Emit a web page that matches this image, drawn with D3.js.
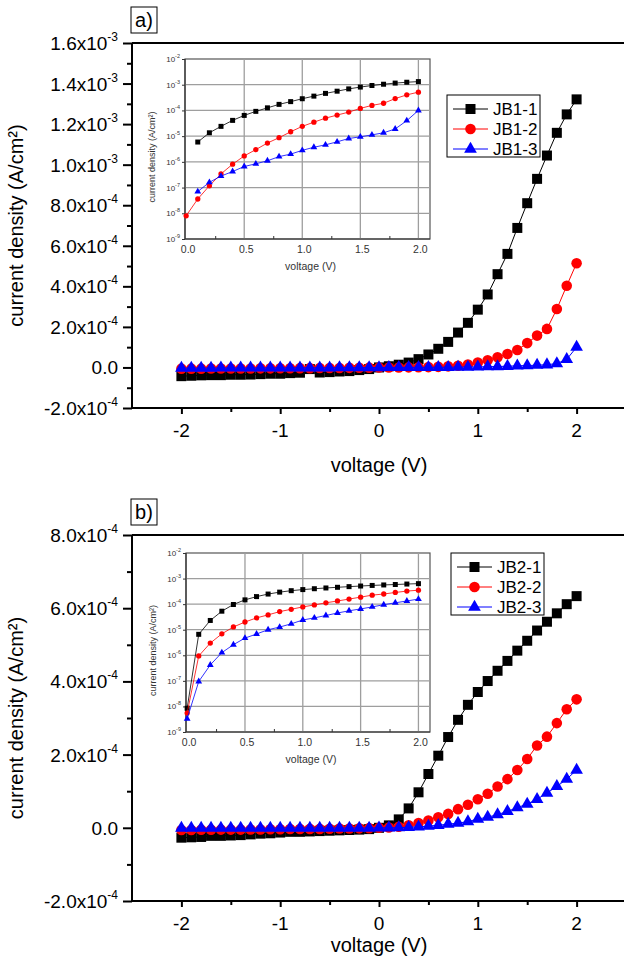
<!DOCTYPE html>
<html>
<head>
<meta charset="utf-8">
<script src="https://cdn.jsdelivr.net/npm/d3@7/dist/d3.min.js"></script>
<style>
body{margin:0;background:#fff}
svg{display:block}
text{font-family:"Liberation Sans",Arial,sans-serif;fill:#000}
</style>
</head>
<body>
<div id="chart"></div>
<script>
// voltage steps (V)
var voltage=[-2.0,-1.9,-1.8,-1.7,-1.6,-1.5,-1.4,-1.3,-1.2,-1.1,-1.0,-0.9,-0.8,-0.7,-0.6,-0.5,-0.4,-0.3,-0.2,-0.1,
  0.0,0.1,0.2,0.3,0.4,0.5,0.6,0.7,0.8,0.9,1.0,1.1,1.2,1.3,1.4,1.5,1.6,1.7,1.8,1.9,2.0]

// current density (A/cm2), panel a
var jb1_1=[-4.3e-5,-4.1e-5,-3.9e-5,-3.8e-5,-3.8e-5,-3.6e-5,-3.6e-5,-3.5e-5,-3.3e-5,-3.1e-5,-3.1e-5,-2.8e-5,-2.6e-5,-8e-6,-2.5e-5,-2.3e-5,-2.0e-5,-1.8e-5,-1.3e-5,-8e-6,
  0,5.9e-6,1.35e-5,2.4e-5,4.1e-5,6.4e-5,9.2e-5,1.26e-4,1.72e-4,2.2e-4,2.85e-4,3.6e-4,4.6e-4,5.6e-4,6.88e-4,8.1e-4,9.3e-4,1.045e-3,1.157e-3,1.248e-3,1.322e-3]
var jb1_2=[-6e-6,-6e-6,-6e-6,-5.5e-6,-5.5e-6,-5e-6,-5e-6,-5e-6,-4.5e-6,-4.5e-6,-4e-6,-4e-6,-3.5e-6,-3.5e-6,-3e-6,-3e-6,-2.5e-6,-2e-6,-1.5e-6,-1e-6,
  8e-9,3.6e-8,1.17e-7,3.4e-7,8.1e-7,1.7e-6,3.0e-6,5.4e-6,8.7e-6,1.48e-5,2.4e-5,3.5e-5,5.0e-5,6.6e-5,8.6e-5,1.2e-4,1.57e-4,1.9e-4,2.88e-4,4.03e-4,5.14e-4]
var jb1_3=[-3e-6,-3e-6,-3e-6,-3e-6,-2.5e-6,-2.5e-6,-2.5e-6,-2.5e-6,-2e-6,-2e-6,-2e-6,-2e-6,-1.5e-6,-1.5e-6,-1.5e-6,-1.5e-6,-1e-6,-1e-6,-1e-6,-5e-7,
  -2e-7,7e-8,1.6e-7,2.8e-7,4.2e-7,6.6e-7,8.4e-7,1.1e-6,1.6e-6,2.0e-6,2.8e-6,3.7e-6,4.6e-6,6.0e-6,8.1e-6,9.4e-6,1.12e-5,1.35e-5,1.9e-5,4.0e-5,1.0e-4]

// panel b
var jb2_1=[-2.7e-5,-2.6e-5,-2.5e-5,-2.2e-5,-2.2e-5,-2.1e-5,-2.0e-5,-1.8e-5,-1.6e-5,-1.5e-5,-1.3e-5,-1.1e-5,-1.1e-5,-1.0e-5,-9e-6,-8e-6,-7e-6,-6e-6,-5e-6,-3.6e-6,
  8.5e-9,6.6e-6,2.3e-5,5.3e-5,9.7e-5,1.47e-4,1.97e-4,2.48e-4,2.95e-4,3.36e-4,3.71e-4,4.01e-4,4.29e-4,4.56e-4,4.84e-4,5.11e-4,5.39e-4,5.63e-4,5.86e-4,6.11e-4,6.33e-4]
var jb2_2=[-6e-6,-6e-6,-5.5e-6,-5.5e-6,-5e-6,-5e-6,-5e-6,-4.5e-6,-4.5e-6,-4e-6,-4e-6,-3.5e-6,-3.5e-6,-3e-6,-3e-6,-2.5e-6,-2e-6,-2e-6,-1.5e-6,-1e-6,
  5.5e-9,9.4e-7,3.0e-6,6.9e-6,1.28e-5,2.0e-5,2.9e-5,3.8e-5,5.1e-5,6.3e-5,7.8e-5,9.3e-5,1.13e-4,1.33e-4,1.58e-4,1.88e-4,2.25e-4,2.49e-4,2.86e-4,3.24e-4,3.51e-4]
var jb2_3=[-1e-6,-1e-6,-1e-6,-1e-6,-1e-6,-1e-6,-1e-6,-1e-6,-1e-6,-1e-6,-5e-7,-5e-7,-5e-7,-5e-7,-5e-7,-5e-7,-5e-7,-5e-7,-5e-7,-5e-7,
  3.3e-9,9.4e-8,4.2e-7,1.27e-6,2.6e-6,4.7e-6,6.8e-6,1.0e-5,1.27e-5,1.7e-5,2.4e-5,2.9e-5,3.6e-5,4.5e-5,5.5e-5,6.5e-5,7.8e-5,9.5e-5,1.13e-4,1.33e-4,1.58e-4]

var namesA=["JB1-1","JB1-2","JB1-3"]
var namesB=["JB2-1","JB2-2","JB2-3"]

var yTicksA=[-2e-4,0,2e-4,4e-4,6e-4,8e-4,1e-3,1.2e-3,1.4e-3,1.6e-3]
var yLabelsA=["-2.0x10^-4","0.0","2.0x10^-4","4.0x10^-4","6.0x10^-4","8.0x10^-4","1.0x10^-3","1.2x10^-3","1.4x10^-3","1.6x10^-3"]
var yTicksB=[-2e-4,0,2e-4,4e-4,6e-4,8e-4]
var yLabelsB=["-2.0x10^-4","0.0","2.0x10^-4","4.0x10^-4","6.0x10^-4","8.0x10^-4"]
var xTicks=[-2,-1,0,1,2]
var xLabels=["-2","-1","0","1","2"]

var insetYTicks=[1e-9,1e-8,1e-7,1e-6,1e-5,1e-4,1e-3,1e-2]
var insetYLabels=["10^-9","10^-8","10^-7","10^-6","10^-5","10^-4","10^-3","10^-2"]
var insetXTicks=[0,0.5,1,1.5,2]
var insetXLabels=["0.0","0.5","1.0","1.5","2.0"]

var colors=["#000000","#ff0000","#0000ff"]
var shapes=[d3.symbolSquare,d3.symbolCircle,d3.symbolTriangle]

var svg=d3.select("#chart").append("svg")
    .attr("width",624)
    .attr("height",968)

// text with "^" exponent as superscript
var powText=function(sel,str,big,small,rise){
  var parts=str.split("^")
  sel.append("tspan").attr("font-size",big).text(parts[0])
  if(parts.length>1){
    sel.append("tspan").attr("font-size",small).attr("dy",-rise).text(parts[1])
  }
}

var drawPanel=function(p){
  var g=svg.append("g")
  var x=d3.scaleLinear().domain([-2.5,2.5]).range([p.left,p.right])
  var y=d3.scaleLinear().domain([p.yTicks[0],p.yTicks[p.yTicks.length-1]]).range([p.bottom,p.top])

  // frame
  g.append("line").attr("x1",p.left).attr("x2",p.right+5).attr("y1",p.top).attr("y2",p.top)
    .style("stroke","#000").attr("stroke-width",2)
  g.append("line").attr("x1",p.right).attr("x2",p.right).attr("y1",p.top).attr("y2",p.bottom)
    .style("stroke","#000").attr("stroke-width",2)

  var yAxis=d3.axisLeft(y).tickValues(p.yTicks).tickSize(9).tickFormat("")
  var yMinor=d3.axisLeft(y).tickValues(p.yMinor).tickSize(5).tickFormat("")
  g.append("g").attr("transform","translate("+p.left+",0)").call(yMinor)
  g.append("g").attr("transform","translate("+p.left+",0)").call(yAxis)
  g.selectAll(".domain").remove()
  g.append("line").attr("x1",p.left).attr("x2",p.left).attr("y1",p.top).attr("y2",p.bottom)
    .style("stroke","#000").attr("stroke-width",2)

  var xAxis=d3.axisBottom(x).tickValues(xTicks).tickSize(6).tickFormat("")
  var xMinor=d3.axisBottom(x).tickValues([-1.5,-0.5,0.5,1.5]).tickSize(4).tickFormat("")
  g.append("g").attr("transform","translate(0,"+p.bottom+")").call(xAxis)
  g.append("g").attr("transform","translate(0,"+p.bottom+")").call(xMinor)
  g.selectAll(".domain").remove()
  g.append("line").attr("x1",p.left).attr("x2",p.right).attr("y1",p.bottom).attr("y2",p.bottom)
    .style("stroke","#000").attr("stroke-width",2)
  g.selectAll(".tick line").attr("stroke","#000").attr("stroke-width",2)

  // tick labels
  p.yTicks.forEach(function(t,i){
    var tx=g.append("text").attr("x",p.left-14).attr("y",y(t)+7).attr("text-anchor","end")
    powText(tx,p.yLabels[i],19,12,9)
  })
  xTicks.forEach(function(t,i){
    g.append("text").attr("x",x(t)).attr("y",p.bottom+29).attr("text-anchor","middle")
      .attr("font-size",19).text(xLabels[i])
  })
  g.append("text").attr("x",x(0)).attr("y",p.xTitleY).attr("text-anchor","middle")
    .attr("font-size",20).text("voltage (V)")
  g.append("text").attr("transform","translate(23,"+((p.top+p.bottom)/2)+") rotate(-90)")
    .attr("text-anchor","middle").attr("font-size",20).text("current density (A/cm²)")

  // panel label
  g.append("rect").attr("x",131).attr("y",p.top-36).attr("width",26).attr("height",26)
    .style("fill","#fff").style("stroke","#000").attr("stroke-width",1)
  g.append("text").attr("x",144).attr("y",p.top-16).attr("text-anchor","middle")
    .attr("font-size",20).text(p.label)

  // series
  var line=d3.line().x(function(d){return x(d[0])}).y(function(d){return y(d[1])})
  p.series.forEach(function(s,k){
    var pts=voltage.map(function(v,i){return [v,s[i]]})
    g.append("path").datum(pts).attr("d",line)
      .style("fill","none").style("stroke",colors[k]).attr("stroke-width",1)
    g.append("g").selectAll("path").data(pts).enter().append("path")
      .attr("transform",function(d){return "translate("+x(d[0])+","+y(d[1])+")"})
      .attr("d",d3.symbol().type(shapes[k]).size([100,88,70][k]))
      .style("fill",colors[k])
  })

  // legend
  var lg=g.append("g").attr("transform","translate("+p.legend[0]+","+p.legend[1]+")")
  lg.append("rect").attr("width",93).attr("height",62)
    .style("fill","#fff").style("stroke","#000").attr("stroke-width",1)
  p.names.forEach(function(n,k){
    var ry=14+k*20
    lg.append("line").attr("x1",6).attr("x2",41).attr("y1",ry).attr("y2",ry)
      .style("stroke",colors[k]).attr("stroke-width",1)
    lg.append("path").attr("transform","translate(23.5,"+ry+")")
      .attr("d",d3.symbol().type(shapes[k]).size([100,88,70][k])).style("fill",colors[k])
    lg.append("text").attr("x",46).attr("y",ry+6).attr("font-size",17).text(n)
  })

  drawInset(p.inset,p.series)
}

var drawInset=function(r,series){
  var g=svg.append("g")
  var x=d3.scaleLinear().domain([-0.01,2.1]).range([r[0],r[1]])
  var y=d3.scaleLog().domain([1e-9,1e-2]).range([r[3],r[2]])

  g.append("rect").attr("x",r[0]).attr("y",r[2]).attr("width",r[1]-r[0]).attr("height",r[3]-r[2])
    .style("fill","#fff").style("stroke","#555").attr("stroke-width",1.2)

  // grid
  g.selectAll(".gx").data(insetXTicks.slice(1)).enter().append("line")
    .attr("x1",function(d){return x(d)}).attr("x2",function(d){return x(d)})
    .attr("y1",r[2]).attr("y2",r[3]).style("stroke","#9e9e9e").attr("stroke-width",1.3)
  g.selectAll(".gy").data(insetYTicks.slice(1,-1)).enter().append("line")
    .attr("y1",function(d){return y(d)}).attr("y2",function(d){return y(d)})
    .attr("x1",r[0]).attr("x2",r[1]).style("stroke","#9e9e9e").attr("stroke-width",1.3)

  g.append("g").attr("transform","translate(0,"+r[3]+")")
    .call(d3.axisBottom(x).tickValues([0.25,0.75,1.25,1.75]).tickSize(-3).tickFormat(""))
  g.append("g").attr("transform","translate("+r[0]+",0)")
    .call(d3.axisLeft(y).tickValues(insetYTicks).tickSize(3).tickFormat(""))
  g.selectAll(".domain").remove()
  g.selectAll(".tick line").attr("stroke","#333")
  g.append("line").attr("x1",r[0]).attr("x2",r[1]).attr("y1",r[3]).attr("y2",r[3])
    .style("stroke","#333").attr("stroke-width",1.2)
  g.append("line").attr("x1",r[0]).attr("x2",r[0]).attr("y1",r[2]).attr("y2",r[3])
    .style("stroke","#333").attr("stroke-width",1.2)

  insetYTicks.forEach(function(t,i){
    var tx=g.append("text").attr("x",r[0]-5).attr("y",y(t)+3).attr("text-anchor","end")
      .style("fill","#333")
    powText(tx,insetYLabels[i],8,5.5,4)
  })
  insetXTicks.forEach(function(t,i){
    g.append("text").attr("x",x(t)+2).attr("y",r[3]+14).attr("text-anchor","middle")
      .attr("font-size",10.5).style("fill","#333").text(insetXLabels[i])
  })
  g.append("text").attr("x",(r[0]+r[1])/2+3).attr("y",r[3]+31).attr("text-anchor","middle")
    .attr("font-size",10.5).style("fill","#333").text("voltage (V)")
  g.append("text").attr("transform","translate("+(r[0]-30)+","+((r[2]+r[3])/2+8)+") rotate(-90)")
    .attr("text-anchor","middle").attr("font-size",9).style("fill","#333").text("current density (A/cm²)")

  var line=d3.line().x(function(d){return x(d[0])}).y(function(d){return y(d[1])})
  series.forEach(function(s,k){
    var pts=[]
    for(var i=0;i<voltage.length;i++){
      if(voltage[i]>=0 && s[i]>0) pts.push([voltage[i],s[i]])
    }
    g.append("path").datum(pts).attr("d",line)
      .style("fill","none").style("stroke",colors[k]).attr("stroke-width",0.8)
    g.append("g").selectAll("path").data(pts).enter().append("path")
      .attr("transform",function(d){return "translate("+x(d[0])+","+y(d[1])+")"})
      .attr("d",d3.symbol().type(shapes[k]).size([25,22,20][k]))
      .style("fill",colors[k])
  })
}

drawPanel({
  label:"a)",left:132,right:626,top:43,bottom:408,xTitleY:472,
  yTicks:yTicksA,yLabels:yLabelsA,
  yMinor:[-1e-4,1e-4,3e-4,5e-4,7e-4,9e-4,1.1e-3,1.3e-3,1.5e-3],
  series:[jb1_1,jb1_2,jb1_3],names:namesA,
  legend:[447,95],
  inset:[185,430,59,239]
})

drawPanel({
  label:"b)",left:132,right:626,top:535,bottom:901,xTitleY:952,
  yTicks:yTicksB,yLabels:yLabelsB,
  yMinor:[-1e-4,1e-4,3e-4,5e-4,7e-4],
  series:[jb2_1,jb2_2,jb2_3],names:namesB,
  legend:[451,553],
  inset:[186,430,553,732]
})
</script>
</body>
</html>
